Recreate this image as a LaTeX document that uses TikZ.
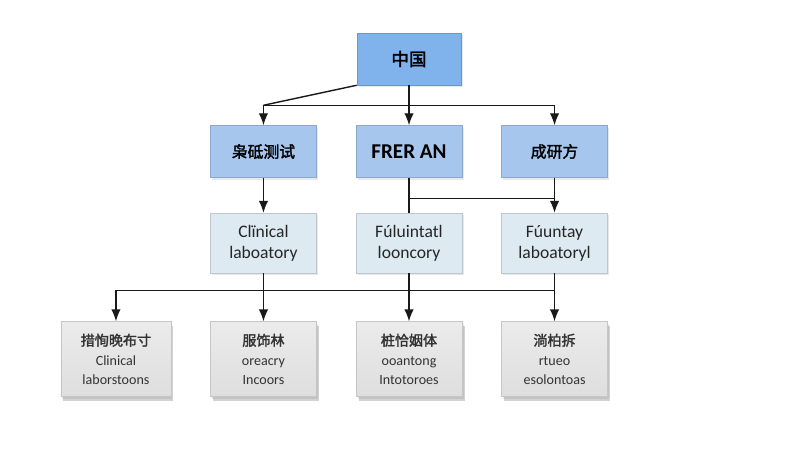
\documentclass[tikz,border=0pt]{standalone}
\usepackage{fontspec}
\setmainfont{Carlito}
\newfontfamily\cjk{Noto Sans CJK SC}[AutoFakeBold=2]
\usepackage{xcolor}
\usetikzlibrary{positioning,calc,arrows.meta,shadows}
\definecolor{rootblue}{RGB}{128,178,236}
\definecolor{midblue}{RGB}{166,198,238}
\definecolor{paleblue}{RGB}{221,234,242}
\definecolor{boxgray}{RGB}{222,222,222}

\begin{document}
\begin{tikzpicture}[
    node distance=0.8cm and 0.78cm,
    box/.style={rectangle, minimum width=2.12cm, minimum height=1.04cm, align=center, inner sep=2pt,
                drop shadow={opacity=0.18, shadow xshift=0.03cm, shadow yshift=-0.04cm}},
    rootbox/.style={box, minimum width=2.08cm, fill=rootblue, draw=rootblue!85!black, line width=0.3pt, font=\normalsize},
    unit/.style={box, fill=midblue, draw=midblue!85!black, line width=0.3pt, font=\large},
    lab/.style={box, minimum height=1.2cm, fill=paleblue, draw=paleblue!85!black, line width=0.3pt, font=\normalsize, text=black!85},
    room/.style={box, minimum height=1.5cm, top color=boxgray!60, bottom color=boxgray, draw=gray!45, line width=0.3pt, font=\footnotesize,
                 text=black!80, drop shadow={opacity=0.35, shadow xshift=0.05cm, shadow yshift=-0.08cm}},
    link/.style={line width=0.8pt, draw=black!90},
    arrow/.style={link, -{Latex[length=2.4mm,width=1.9mm]}},
]
\useasboundingbox[fill=white] (0,0) rectangle (16,9);

\node[rootbox] (root) at (8.18,7.82) {\cjk\bfseries 中国};

\node[unit, below=of root] (unitB) {\bfseries FRER AN};
\node[unit, left=of unitB]  (unitA) {\cjk\bfseries\small 枭砥测试};
\node[unit, right=of unitB] (unitC) {\cjk\bfseries\small 成研方};

\node[lab, below=0.7cm of unitA] (labA) {Clïnical\\laboatory};
\node[lab, below=0.7cm of unitB] (labB) {Fúluintatl\\looncory};
\node[lab, below=0.7cm of unitC] (labC) {Fúuntay\\laboatoryl};

\node[room, below=0.96cm of labA] (roomB) {{\cjk\bfseries 服饰林}\\[2pt]oreacry\\[1pt]Incoors};
\node[room, minimum width=2.2cm, left=of roomB] (roomA) {{\cjk\bfseries 措恂晚布寸}\\[2pt]Clinical\\[1pt]laborstoons};
\node[room, below=0.96cm of labB] (roomC) {{\cjk\bfseries 桩恰姻体}\\[2pt]ooantong\\[1pt]Intotoroes};
\node[room, below=0.96cm of labC] (roomD) {{\cjk\bfseries 淌柏拆}\\[2pt]rtueo\\[1pt]esolontoas};

% junction points between the rows
\coordinate (top) at ($(unitA.north)+(0,0.4)$);
\coordinate (mid) at ($(unitB.south)+(0,-0.42)$);
\coordinate (low) at ($(labA.south)+(0,-0.34)$);

% root to units
\draw[link] (root.south west) -- (top);
\draw[arrow] (top) -- (unitC.north |- top) -- (unitC.north);
\draw[arrow] (top) -- (unitA.north);
\draw[arrow] (root.south) -- (unitB.north);

% units to labs
\draw[arrow] (unitA.south) -- (labA.north);
\draw[link] (unitB.south) -- (labB.north);
\draw[link] (mid) -- (unitC.south |- mid);
\draw[arrow] (unitC.south) -- (labC.north);

% labs to rooms
\draw[link] (labC.south |- low) -- (roomA.north |- low);
\draw[arrow] (roomA.north |- low) -- (roomA.north);
\draw[arrow] (labA.south) -- (roomB.north);
\draw[arrow] (labB.south) -- (roomC.north);
\draw[arrow] (labC.south) -- (roomD.north);
\end{tikzpicture}
\end{document}
